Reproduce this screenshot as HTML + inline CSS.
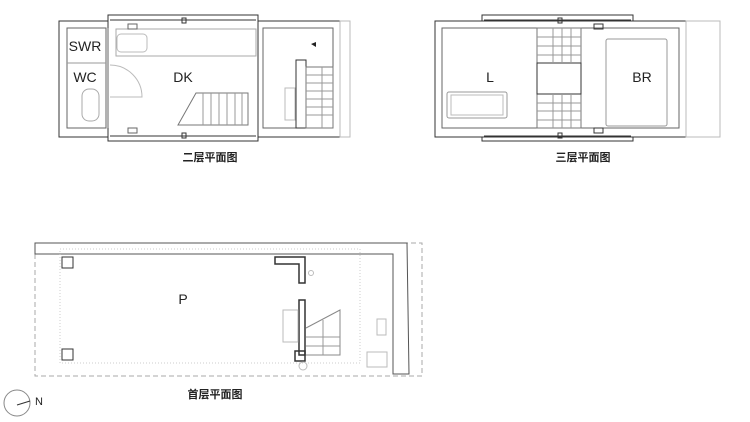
<!DOCTYPE html>
<html><head><meta charset="utf-8"><style>
html,body{margin:0;padding:0;background:#fff;}
svg{display:block}
text{font-family:"Liberation Sans","Noto Sans CJK SC",sans-serif;fill:#222}
</style></head><body>
<svg width="750" height="422" viewBox="0 0 750 422" xmlns="http://www.w3.org/2000/svg">
<g fill="none" stroke="#333" stroke-width="1">
<!-- Floor 2 -->
<rect x="59" y="21" width="49" height="116"/>
<rect x="67" y="28" width="39" height="100" stroke="#666"/>
<line x1="67" y1="63" x2="106" y2="63" stroke="#999"/>
<path d="M108 21 L108 15 L258 15 L258 21 M108 137 L108 141 L258 141 L258 137"/>
<line x1="108" y1="28" x2="108" y2="128" stroke="#666"/>
<line x1="110" y1="20" x2="256" y2="20"/>
<line x1="110" y1="136" x2="256" y2="136"/>
<rect x="258" y="21" width="82" height="116"/>
<rect x="263" y="28" width="70" height="100" stroke="#666"/>
<rect x="340" y="21" width="10" height="116" stroke="#bbb"/>
<rect x="296" y="60" width="10" height="68"/>
<rect x="306" y="67" width="27" height="61" stroke="#777"/>
<g stroke="#999"><line x1="306" y1="75" x2="333" y2="75"/><line x1="306" y1="83" x2="333" y2="83"/><line x1="306" y1="91" x2="333" y2="91"/><line x1="306" y1="99" x2="333" y2="99"/><line x1="306" y1="107" x2="333" y2="107"/><line x1="306" y1="115" x2="333" y2="115"/><line x1="322" y1="67" x2="322" y2="128"/></g>
<rect x="285" y="88" width="10" height="32" stroke="#bbb"/>
<rect x="116" y="29" width="140" height="27" stroke="#aaa"/>
<rect x="117" y="34" width="30" height="18" rx="4" stroke="#bbb"/>
<rect x="128" y="24" width="9" height="5" stroke="#666"/>
<rect x="128" y="128" width="9" height="5" stroke="#666"/>
<rect x="182" y="18" width="4" height="5"/>
<rect x="182" y="133" width="4" height="5"/>
<path d="M196 93 L248 93 L248 125 L178 125 Z" stroke="#777"/>
<g stroke="#999"><line x1="203" y1="93" x2="203" y2="125"/><line x1="211" y1="93" x2="211" y2="125"/><line x1="219" y1="93" x2="219" y2="125"/><line x1="227" y1="93" x2="227" y2="125"/><line x1="235" y1="93" x2="235" y2="125"/><line x1="242" y1="93" x2="242" y2="125"/></g>
<path d="M110 65 A32 32 0 0 1 142 97 L110 97" stroke="#bbb"/>
<rect x="82" y="89" width="17" height="32" rx="7" stroke="#aaa"/>
<!-- Floor 3 -->
<rect x="435" y="21" width="251" height="116"/>
<rect x="442" y="28" width="237" height="100" stroke="#666"/>
<path d="M482 21 L482 15 L633 15 L633 21 M482 137 L482 141 L633 141 L633 137"/>
<line x1="484" y1="20" x2="631" y2="20"/>
<line x1="484" y1="136" x2="631" y2="136"/>
<rect x="686" y="21" width="34" height="116" stroke="#bbb"/>
<rect x="537" y="28" width="44" height="100" stroke="#777"/>
<rect x="537" y="63" width="44" height="31" fill="#fff"/>
<g stroke="#999"><line x1="537" y1="37" x2="581" y2="37"/><line x1="537" y1="46" x2="581" y2="46"/><line x1="537" y1="55" x2="581" y2="55"/><line x1="537" y1="103" x2="581" y2="103"/><line x1="537" y1="111" x2="581" y2="111"/><line x1="537" y1="120" x2="581" y2="120"/><line x1="553" y1="28" x2="553" y2="63"/><line x1="562" y1="28" x2="562" y2="63"/><line x1="571" y1="28" x2="571" y2="63"/><line x1="553" y1="94" x2="553" y2="128"/><line x1="562" y1="94" x2="562" y2="128"/><line x1="571" y1="94" x2="571" y2="128"/></g>
<rect x="606" y="39" width="61" height="87" rx="2" stroke="#999"/>
<rect x="447" y="92" width="60" height="26" rx="2" stroke="#999"/>
<rect x="451" y="95" width="52" height="20" stroke="#bbb"/>
<rect x="594" y="24" width="9" height="5"/><rect x="594" y="128" width="9" height="5"/>
<rect x="558" y="18" width="4" height="5"/><rect x="558" y="133" width="4" height="5"/>
<!-- Floor 1 -->
<rect x="35" y="243" width="387" height="133" stroke="#aaa" stroke-dasharray="5,3"/>
<path d="M35 243 L407 243 L409 374 L393 374 L393 254 L35 254 Z" stroke="#555"/>
<rect x="60" y="249" width="300" height="114" stroke="#ccc" stroke-dasharray="1,2"/>
<rect x="62" y="257" width="11" height="11"/>
<rect x="62" y="349" width="11" height="11"/>
<path d="M275 257 L305 257 L305 283 L299 283 L299 264 L275 264 Z" stroke-width="1.5"/>
<rect x="299" y="300" width="6" height="55" stroke-width="1.5"/>
<rect x="295" y="351" width="10" height="10" stroke-width="1.5"/>
<path d="M306 328 L340 310 L340 355 L306 355" stroke="#888"/>
<g stroke="#999"><line x1="306" y1="337" x2="340" y2="337"/><line x1="306" y1="346" x2="340" y2="346"/><line x1="323" y1="320" x2="323" y2="355"/></g>
<rect x="283" y="310" width="15" height="32" stroke="#bbb"/>
<rect x="377" y="319" width="9" height="16" stroke="#bbb"/>
<rect x="367" y="352" width="20" height="15" stroke="#bbb"/>
<circle cx="303" cy="366" r="4" stroke="#bbb"/>
<circle cx="311" cy="273" r="2.5" stroke="#bbb"/>
<!-- compass -->
<circle cx="17" cy="403" r="13" stroke="#888"/>
<line x1="17" y1="405" x2="30" y2="401" stroke="#333"/>
</g>
<g font-size="14" text-anchor="middle">
<text x="85" y="51">SWR</text>
<text x="85" y="82">WC</text>
<text x="183" y="82">DK</text>
<text x="490" y="82">L</text>
<text x="642" y="82">BR</text>
<text x="183" y="304">P</text>
<text x="39" y="405" font-size="11">N</text>
</g>
<path d="M311 44 L316 42 L316 47 Z" fill="#222"/>
<g font-size="11" text-anchor="middle" font-weight="bold">
<text x="210" y="161">二层平面图</text>
<text x="583" y="161">三层平面图</text>
<text x="215" y="398">首层平面图</text>
</g>
</svg>
</body></html>
